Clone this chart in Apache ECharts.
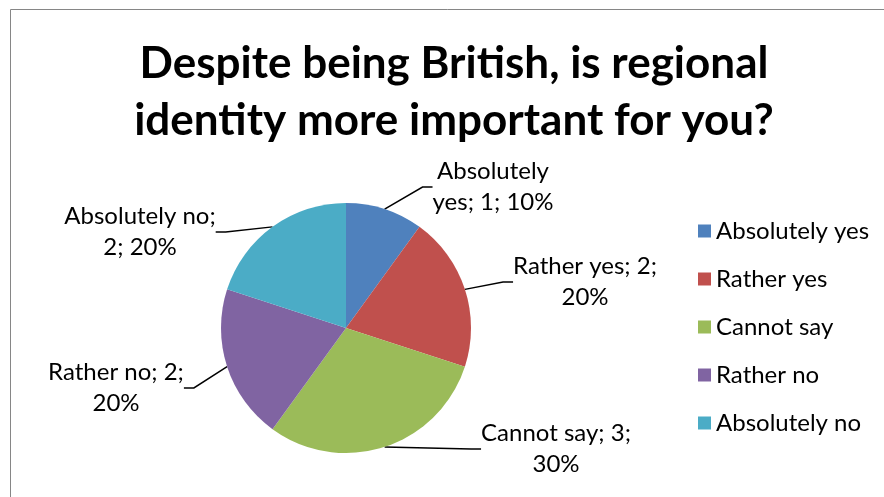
<!DOCTYPE html>
<html>
<head>
<meta charset="utf-8">
<script src="https://cdn.jsdelivr.net/npm/echarts@6/dist/echarts.min.js"></script>
<style>
  html, body { margin: 0; padding: 0; background: #fff; }
  #chart { width: 884px; height: 497px; }
</style>
</head>
<body>
<div id="chart"></div>
<script>
// Survey answers and counts
const categories = ['Absolutely yes', 'Rather yes', 'Cannot say', 'Rather no', 'Absolutely no'];
const counts = [1, 2, 3, 2, 2];
const sliceColors = ['#4F81BD', '#C0504D', '#9BBB59', '#8064A2', '#4BACC6'];
const titleLines = ['Despite being British, is regional', 'identity more important for you?'];

// Where each data label sits (centre of its text block)
const labelSpots = [
  [493, 187], [585, 282], [556, 449], [116, 388], [140, 232]
];

const FONT = 'Lato, "Open Sans", sans-serif';
const total = counts.reduce((a, b) => a + b, 0);

const data = categories.map((name, i) => ({
  name: name,
  value: counts[i],
  itemStyle: { color: sliceColors[i] }
}));

const chart = echarts.init(document.getElementById('chart'));
chart.setOption({
  animation: false,
  graphic: [
    {
      type: 'rect',
      shape: { x: 10.5, y: 9.5, width: 900, height: 500 },
      style: { fill: 'none', stroke: '#868686', lineWidth: 1 },
      silent: true
    },
    {
      type: 'text',
      x: 454, y: 92,
      style: {
        text: titleLines.join('\n'),
        font: 'bold 44px ' + FONT,
        lineHeight: 57,
        align: 'center',
        verticalAlign: 'middle',
        fill: '#000'
      }
    }
  ],
  legend: {
    orient: 'vertical',
    left: 693,
    top: 212,
    icon: 'rect',
    itemWidth: 13,
    itemHeight: 13,
    itemGap: 20,
    data: categories,
    textStyle: { fontFamily: FONT, fontSize: 24, color: '#000', lineHeight: 28 }
  },
  series: [{
    type: 'pie',
    center: [346, 328],
    radius: 125,
    startAngle: 90,
    clockwise: true,
    data: data,
    itemStyle: { borderWidth: 0 },
    label: {
      show: true,
      position: 'outside',
      fontFamily: FONT,
      fontSize: 24,
      lineHeight: 31,
      color: '#000',
      align: 'center',
      formatter: function (p) {
        const pct = Math.round(p.value / total * 100) + '%';
        const idx = p.dataIndex;
        if (idx === 0) return 'Absolutely\nyes; ' + p.value + '; ' + pct;
        if (idx === 4) return p.name + ';\n' + p.value + '; ' + pct;
        return p.name + '; ' + p.value + ';\n' + pct;
      }
    },
    labelLine: {
      show: true,
      length: 10,
      length2: 10,
      lineStyle: { color: '#000', width: 1.5 }
    },
    labelLayout: function (params) {
      const spot = labelSpots[params.dataIndex];
      return {
        x: spot[0],
        y: spot[1],
        align: 'center',
        verticalAlign: 'middle'
      };
    }
  }]
});
</script>
</body>
</html>
